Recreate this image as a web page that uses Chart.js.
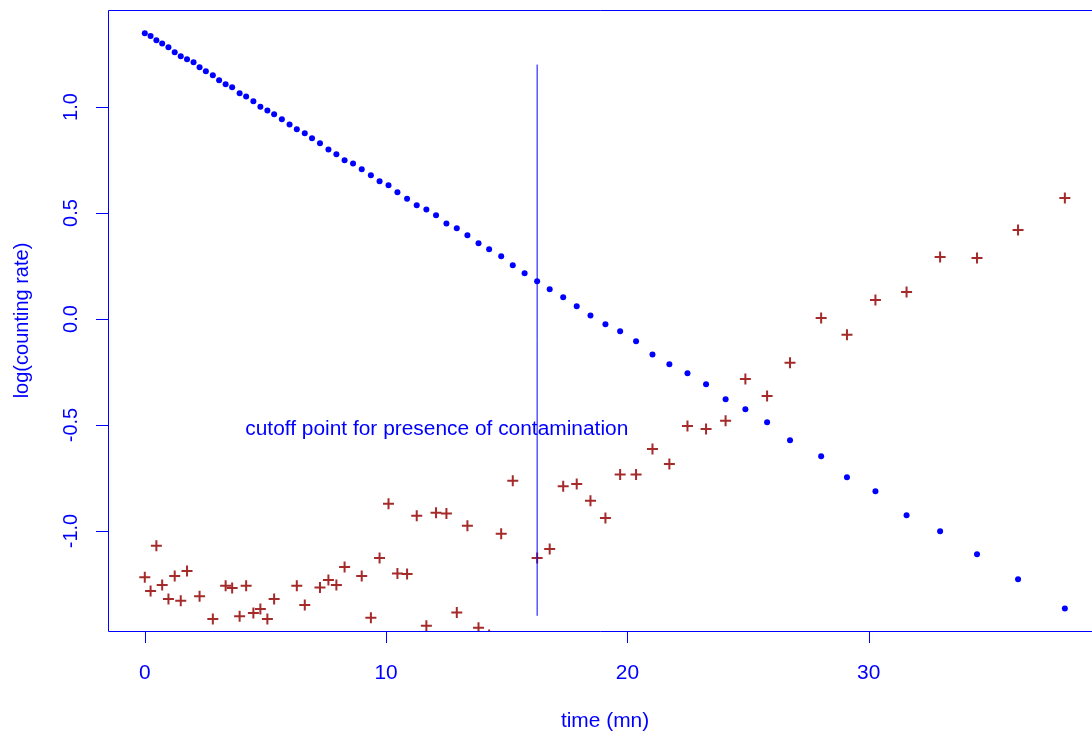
<!DOCTYPE html>
<html lang="en">
<head>
    <meta charset="UTF-8">
    <title>Counting rate vs time</title>
    <script src="https://cdn.jsdelivr.net/npm/chart.js"></script>
    <style>
        body {
            margin: 0;
            background-color: #ffffff;
        }
        #chartContainer {
            width: 1092px;
            height: 732px;
        }
    </style>
</head>
<body>
    <div id="chartContainer">
        <canvas id="rateChart" width="1092" height="732"></canvas>
    </div>

    <script>
        // time (mn) of each measurement
        const timeValues = [
            0, 0.24, 0.48, 0.72, 0.98, 1.24, 1.49, 1.75, 2.02, 2.27,
            2.53, 2.82, 3.08, 3.35, 3.62, 3.93, 4.20, 4.50, 4.79, 5.08,
            5.36, 5.68, 6.00, 6.30, 6.63, 6.93, 7.26, 7.61, 7.94, 8.28,
            8.63, 8.99, 9.37, 9.73, 10.10, 10.47, 10.87, 11.27, 11.67, 12.07,
            12.50, 12.93, 13.37, 13.83, 14.27, 14.77, 15.25, 15.74, 16.26, 16.78,
            17.34, 17.90, 18.47, 19.09, 19.70, 20.36, 21.04, 21.74, 22.49, 23.26,
            24.07, 24.89, 25.79, 26.74, 28.03, 29.10, 30.28, 31.57, 32.96, 34.49,
            36.19, 38.13
        ];

        // log(counting rate) of the main source (blue dots)
        const sourceRate = [
            1.348, 1.335, 1.315, 1.300, 1.282, 1.258, 1.239, 1.225, 1.211, 1.187,
            1.168, 1.150, 1.126, 1.107, 1.093, 1.065, 1.050, 1.027, 1.001, 0.984,
            0.966, 0.942, 0.918, 0.895, 0.876, 0.852, 0.829, 0.800, 0.777, 0.749,
            0.734, 0.706, 0.678, 0.650, 0.631, 0.598, 0.567, 0.536, 0.517, 0.489,
            0.451, 0.428, 0.395, 0.357, 0.329, 0.296, 0.253, 0.216, 0.178, 0.140,
            0.102, 0.060, 0.017, -0.025, -0.058, -0.105, -0.167, -0.214, -0.256, -0.308,
            -0.379, -0.426, -0.487, -0.572, -0.648, -0.747, -0.813, -0.926, -1.001, -1.110,
            -1.228, -1.365
        ];

        // log(counting rate) of the contamination (red crosses), some fall below the plot
        const contaminationRate = [
            -1.218, -1.283, -1.069, -1.255, -1.321, -1.212, -1.329, -1.189, -1.55, -1.308,
            -1.60, -1.415, -1.52, -1.258, -1.269, -1.402, -1.258, -1.387, -1.368, -1.415,
            -1.321, -1.58, -1.53, -1.258, -1.349, -1.56, -1.266, -1.231, -1.255, -1.170,
            -1.50, -1.212, -1.409, -1.127, -0.871, -1.200, -1.203, -0.928, -1.447, -0.914,
            -0.918, -1.385, -0.975, -1.456, -1.49, -1.013, -0.763, -1.55, -1.127, -1.085,
            -0.789, -0.778, -0.857, -0.939, -0.734, -0.734, -0.613, -0.684, -0.505, -0.519,
            -0.480, -0.283, -0.363, -0.206, 0.005, -0.074, 0.090, 0.127, 0.292, 0.288,
            0.420, 0.571
        ];

        const xTicks = [0, 10, 20, 30];
        const yTicks = [-1.0, -0.5, 0.0, 0.5, 1.0];
        const yTickLabels = ['-1.0', '-0.5', '0.0', '0.5', '1.0'];

        // cutoff marker
        const cutoffTime = [16.26, 16.26];
        const cutoffRange = [-1.4, 1.2];
        const noteText = 'cutoff point for presence of contamination';
        const notePos = [12.1, -0.5];

        const BLUE = '#0000ff';
        const BROWN = '#a52a2a';
        const FONT = '20px "Liberation Sans", Arial, sans-serif';
        const STRETCH = 1.045; // horizontal text in the reference is a bit wide

        function toPoints(xs, ys) {
            return xs.map((x, i) => ({ x: x, y: ys[i] }));
        }

        function wideText(ctx, text, x, y) {
            ctx.save();
            ctx.translate(x, y);
            ctx.scale(STRETCH, 1);
            ctx.fillText(text, 0, 0);
            ctx.restore();
        }

        function upText(ctx, text, x, y) {
            ctx.save();
            ctx.translate(x, y);
            ctx.rotate(-Math.PI / 2);
            ctx.fillText(text, 0, 0);
            ctx.restore();
        }

        // R-style axes, box and texts
        const baseAxes = {
            id: 'baseAxes',
            afterDraw(chart) {
                const ctx = chart.ctx;
                const area = chart.chartArea;
                const xs = chart.scales.x;
                const ys = chart.scales.y;

                ctx.save();
                ctx.strokeStyle = BLUE;
                ctx.fillStyle = BLUE;
                ctx.lineWidth = 1;

                // box (right side is outside the canvas)
                ctx.beginPath();
                ctx.moveTo(area.right, area.top + 0.5);
                ctx.lineTo(area.left + 0.5, area.top + 0.5);
                ctx.lineTo(area.left + 0.5, area.bottom + 0.5);
                ctx.lineTo(area.right, area.bottom + 0.5);
                ctx.stroke();

                ctx.font = FONT;
                ctx.textBaseline = 'alphabetic';
                ctx.textAlign = 'center';

                // x axis
                ctx.beginPath();
                xTicks.forEach(t => {
                    const px = Math.round(xs.getPixelForValue(t)) + 0.5;
                    ctx.moveTo(px, area.bottom);
                    ctx.lineTo(px, area.bottom + 12);
                });
                ctx.stroke();
                xTicks.forEach(t => {
                    wideText(ctx, String(t), xs.getPixelForValue(t), 679);
                });
                wideText(ctx, 'time (mn)', 605, 727);

                // y axis
                ctx.beginPath();
                yTicks.forEach(v => {
                    const py = Math.round(ys.getPixelForValue(v)) + 0.5;
                    ctx.moveTo(area.left, py);
                    ctx.lineTo(area.left - 12, py);
                });
                ctx.stroke();
                yTicks.forEach((v, i) => {
                    upText(ctx, yTickLabels[i], 76.5, ys.getPixelForValue(v));
                });
                upText(ctx, 'log(counting rate)', 28, (area.top + area.bottom) / 2);

                // note next to the cutoff line
                wideText(ctx, noteText, xs.getPixelForValue(notePos[0]), ys.getPixelForValue(notePos[1]) + 10);

                ctx.restore();
            }
        };

        const ctx = document.getElementById('rateChart').getContext('2d');
        new Chart(ctx, {
            type: 'scatter',
            data: {
                datasets: [
                    {
                        label: 'cutoff',
                        data: toPoints(cutoffTime, cutoffRange),
                        showLine: true,
                        borderColor: BLUE,
                        borderWidth: 1,
                        pointRadius: 0,
                        order: 0
                    },
                    {
                        label: 'contamination',
                        data: toPoints(timeValues, contaminationRate),
                        pointStyle: 'cross',
                        pointRadius: 5.5,
                        borderColor: BROWN,
                        borderWidth: 2,
                        clip: 0,
                        order: 1
                    },
                    {
                        label: 'source',
                        data: toPoints(timeValues, sourceRate),
                        pointStyle: 'circle',
                        pointRadius: 3,
                        backgroundColor: BLUE,
                        borderWidth: 0,
                        clip: 0,
                        order: 2
                    }
                ]
            },
            options: {
                responsive: false,
                animation: false,
                layout: {
                    autoPadding: false,
                    padding: { left: 108, top: 10, right: 0, bottom: 101 }
                },
                scales: {
                    x: { type: 'linear', display: false, min: -1.525, max: 39.255 },
                    y: { type: 'linear', display: false, min: -1.4717, max: 1.4575 }
                },
                plugins: {
                    legend: { display: false },
                    tooltip: { enabled: false }
                }
            },
            plugins: [baseAxes]
        });
    </script>
</body>
</html>
